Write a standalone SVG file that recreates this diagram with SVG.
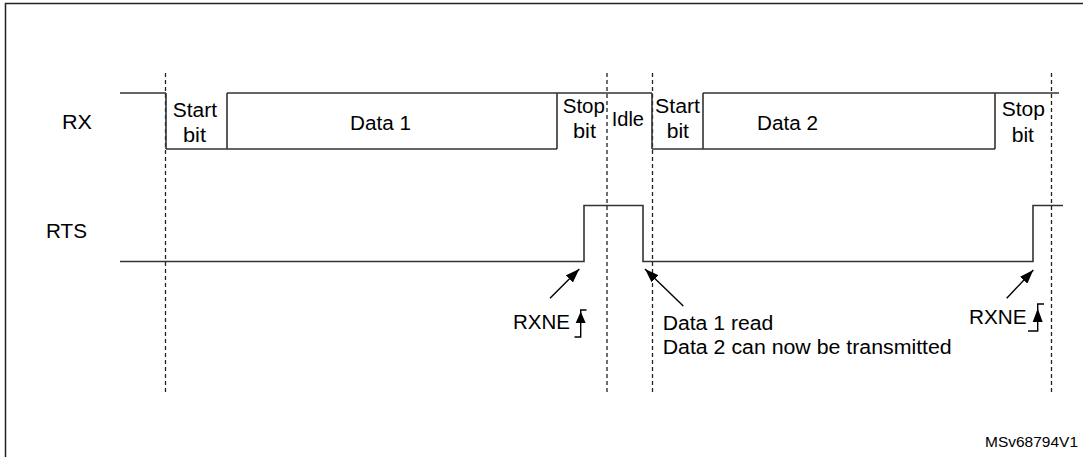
<svg xmlns="http://www.w3.org/2000/svg" width="1083" height="457" viewBox="0 0 1083 457">
  <style>
    text { font-family: "Liberation Sans", Arial, sans-serif; font-size: 20px; fill: #000; }
    .small { font-size: 15px; }
    .wave { fill: none; stroke: #333; stroke-width: 1.6; }
    .dash { fill: none; stroke: #222; stroke-width: 1.3; stroke-dasharray: 4 3; }
    .arrow { fill: none; stroke: #000; stroke-width: 1.4; }
    .frame { fill: none; stroke: #222; stroke-width: 1.5; }
  </style>
  <defs>
    <marker id="ah" viewBox="0 0 14 10" refX="14" refY="5" markerWidth="14" markerHeight="10" markerUnits="userSpaceOnUse" orient="auto">
      <path d="M0,0 L14,5 L0,10 Z" fill="#000"/>
    </marker>
  </defs>
  <rect width="1083" height="457" fill="#fff"/>
  <path class="frame" d="M5.5,470 V3.5 H1095"/>

  <g id="labels">
    <text x="62" y="129" textLength="30" lengthAdjust="spacingAndGlyphs">RX</text>
    <text x="46" y="238" textLength="41" lengthAdjust="spacingAndGlyphs">RTS</text>
  </g>

  <g id="guides">
    <line class="dash" x1="165.5" y1="73" x2="165.5" y2="393"/>
    <line class="dash" x1="607" y1="73" x2="607" y2="393"/>
    <line class="dash" x1="652.5" y1="73" x2="652.5" y2="393"/>
    <line class="dash" x1="1051.5" y1="73" x2="1051.5" y2="393"/>
  </g>

  <g id="rx-wave">
    <path class="wave" d="M120,93 H166 M227,93 H652 M703,93 H1059 M166,149 H557 M652,149 H995 M166,93 V149 M227,93 V149 M557,93 V149 M652,93 V149 M703,93 V149 M995,93 V149"/>
  </g>

  <g id="rx-start1">
    <text x="172.7" y="116.7" textLength="44.3" lengthAdjust="spacingAndGlyphs">Start</text>
    <text x="183" y="141.7" textLength="23" lengthAdjust="spacingAndGlyphs">bit</text>
  </g>
  <g id="rx-data1">
    <text x="350" y="129.5" textLength="61" lengthAdjust="spacingAndGlyphs">Data 1</text>
  </g>
  <g id="rx-stop1">
    <text x="562.7" y="112.7" textLength="42.3" lengthAdjust="spacingAndGlyphs">Stop</text>
    <text x="573" y="138" textLength="23" lengthAdjust="spacingAndGlyphs">bit</text>
  </g>
  <g id="rx-idle">
    <text x="611.7" y="125.7" textLength="32.3" lengthAdjust="spacingAndGlyphs">Idle</text>
  </g>
  <g id="rx-start2">
    <text x="655" y="113.3" textLength="45" lengthAdjust="spacingAndGlyphs">Start</text>
    <text x="666.7" y="138" textLength="22.3" lengthAdjust="spacingAndGlyphs">bit</text>
  </g>
  <g id="rx-data2">
    <text x="757" y="129.5" textLength="61" lengthAdjust="spacingAndGlyphs">Data 2</text>
  </g>
  <g id="rx-stop2">
    <text x="1001.7" y="115.5" textLength="43.3" lengthAdjust="spacingAndGlyphs">Stop</text>
    <text x="1011.7" y="141.7" textLength="22.3" lengthAdjust="spacingAndGlyphs">bit</text>
  </g>

  <g id="rts-wave">
    <path class="wave" d="M120,261.5 H584 V205.5 H643 V261.5 H1033 V205.5 H1063"/>
  </g>

  <g id="connectors">
    <line class="arrow" x1="550" y1="298.3" x2="579.3" y2="269" marker-end="url(#ah)"/>
    <line class="arrow" x1="683.3" y1="306" x2="645" y2="269" marker-end="url(#ah)"/>
    <line class="arrow" x1="1006.7" y1="298.3" x2="1033.3" y2="270" marker-end="url(#ah)"/>
  </g>

  <g id="rxne1">
    <text x="513" y="329" textLength="57" lengthAdjust="spacingAndGlyphs">RXNE</text>
    <path class="arrow" d="M574.5,337 H580.7 V310 H586.5"/>
    <path d="M580.7,311.5 L585.7,323 L575.7,323 Z" fill="#000"/>
  </g>

  <g id="data1-read">
    <text x="662.7" y="330" textLength="110.6" lengthAdjust="spacingAndGlyphs">Data 1 read</text>
    <text x="662.7" y="354" textLength="289" lengthAdjust="spacingAndGlyphs">Data 2 can now be transmitted</text>
  </g>

  <g id="rxne2">
    <text x="969" y="324" textLength="57.7" lengthAdjust="spacingAndGlyphs">RXNE</text>
    <path class="arrow" d="M1028,331 H1037.7 V304 H1044"/>
    <path d="M1037.7,308.5 L1042.7,322 L1032.7,322 Z" fill="#000"/>
  </g>

  <g id="ref">
    <text class="small" x="985" y="446.7" textLength="93" lengthAdjust="spacingAndGlyphs">MSv68794V1</text>
  </g>
</svg>
